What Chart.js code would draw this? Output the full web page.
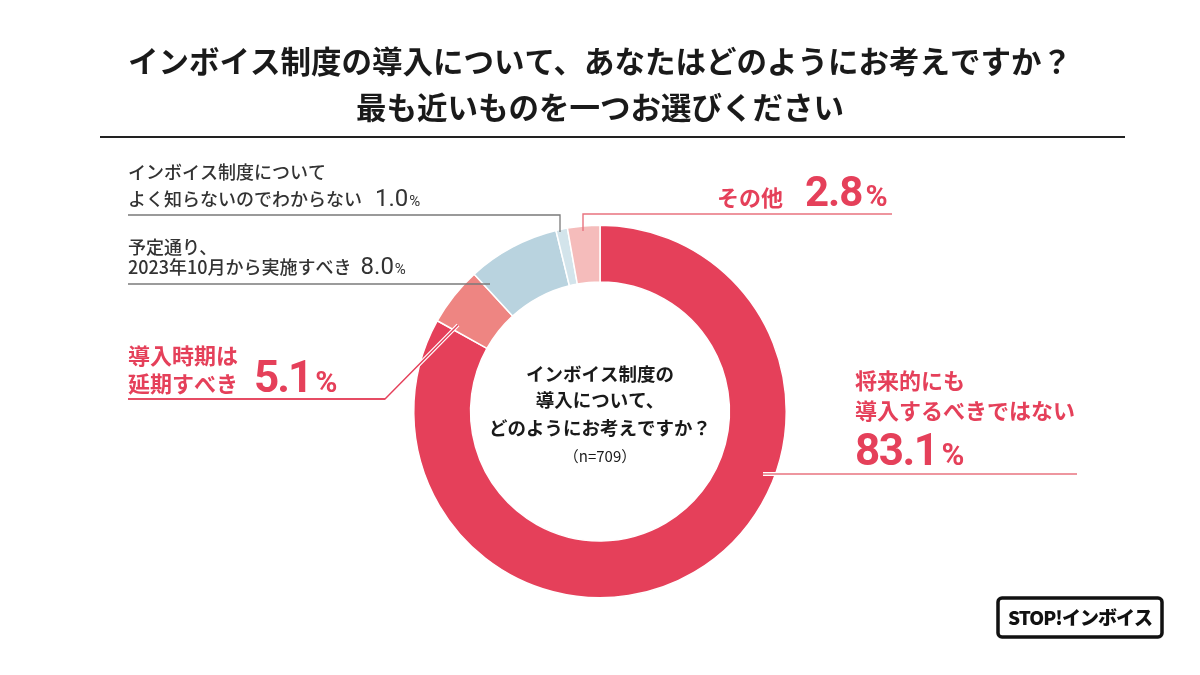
<!DOCTYPE html>
<html lang="ja">
<head>
<meta charset="utf-8">
<title>インボイス制度の導入について</title>
<script src="https://cdn.jsdelivr.net/npm/chart.js@4/dist/chart.umd.min.js"></script>
<style>
  html, body { margin: 0; padding: 0; background: #fff; }
  #wrap { width: 1200px; height: 675px; position: relative; }
</style>
</head>
<body>
<div id="wrap"><canvas id="chart1"></canvas></div>
<script>
// 回答データ（時計回り、12時の位置から）
const answerLabels = [
    '将来的にも導入するべきではない',
    '導入時期は延期すべき',
    '予定通り、2023年10月から実施すべき',
    'インボイス制度についてよく知らないのでわからない',
    'その他'
];
const answerValues = [83.1, 5.1, 8.0, 1.0, 2.8];
const answerColors = ['#e5405a', '#ee8582', '#b9d3df', '#d3e4eb', '#f5bcbb'];

const titleLines = ['インボイス制度の導入について、あなたはどのようにお考えですか？', '最も近いものを一つお選びください'];
const centerLines = ['インボイス制度の', '導入について、', 'どのようにお考えですか？'];
const sampleSize = 709;

const JP = '"Noto Sans CJK JP", "Noto Sans", sans-serif';
const NUM = 'Roboto, "Noto Sans", sans-serif';
const RED = '#e5405a';
const GRAY_TEXT = '#333333';

function pct(i) {
    return answerValues[i].toFixed(1);
}

// 複数フォントのテキストを横に並べて描く
function drawRuns(ctx, x, y, runs) {
    ctx.textAlign = 'left';
    ctx.textBaseline = 'alphabetic';
    runs.forEach(run => {
        ctx.font = run.font;
        ctx.fillStyle = run.color;
        ctx.letterSpacing = run.spacing || '0px';
        x += run.gap || 0;
        ctx.fillText(run.text, x, y);
        x += ctx.measureText(run.text).width;
    });
    ctx.letterSpacing = '0px';
}

function line(ctx, pts, color, width, outline) {
    ctx.save();
    ctx.lineJoin = 'miter';
    if (outline) {
        ctx.strokeStyle = '#ffffff';
        ctx.lineWidth = width + 2.5;
        ctx.beginPath();
        pts.forEach((p, i) => i ? ctx.lineTo(p[0], p[1]) : ctx.moveTo(p[0], p[1]));
        ctx.stroke();
    }
    ctx.strokeStyle = color;
    ctx.lineWidth = width;
    ctx.beginPath();
    pts.forEach((p, i) => i ? ctx.lineTo(p[0], p[1]) : ctx.moveTo(p[0], p[1]));
    ctx.stroke();
    ctx.restore();
}

const annotations = {
    id: 'annotations',
    afterDraw(chart) {
        const ctx = chart.ctx;
        ctx.save();

        // タイトル
        ctx.textAlign = 'center';
        ctx.textBaseline = 'alphabetic';
        ctx.fillStyle = '#1a1a1a';
        ctx.font = 'bold 30.5px ' + JP;
        ctx.fillText(titleLines[0], 600, 73);
        ctx.fillText(titleLines[1], 600, 119);
        line(ctx, [[100, 137], [1125, 137]], '#222222', 2);

        // 中央テキスト
        ctx.textAlign = 'center';
        ctx.fillStyle = '#1a1a1a';
        ctx.font = 'bold 18.5px ' + JP;
        ctx.fillText(centerLines[0], 600, 381);
        ctx.fillText(centerLines[1], 600, 407);
        ctx.fillText(centerLines[2], 600, 435);
        ctx.font = '15px ' + JP;
        ctx.fillText('（n=' + sampleSize + '）', 600, 462);

        // わからない 1.0%
        ctx.textAlign = 'left';
        ctx.font = '500 18px ' + JP;
        ctx.fillStyle = GRAY_TEXT;
        ctx.fillText('インボイス制度について', 128, 179);
        drawRuns(ctx, 128, 206, [
            { text: 'よく知らないのでわからない', font: '500 18px ' + JP, color: GRAY_TEXT },
            { text: pct(3), font: '400 24px ' + NUM, color: GRAY_TEXT, gap: 13 },
            { text: '%', font: '400 15px ' + NUM, color: GRAY_TEXT, gap: 1 }
        ]);
        line(ctx, [[128, 215], [560, 215], [560, 232]], '#7a7a7a', 1.3);

        // 予定通り 8.0%
        ctx.font = '500 18px ' + JP;
        ctx.fillStyle = GRAY_TEXT;
        ctx.fillText('予定通り、', 128, 254);
        drawRuns(ctx, 128, 274, [
            { text: '2023年10月から実施すべき', font: '500 18px ' + JP, color: GRAY_TEXT },
            { text: pct(2), font: '400 24px ' + NUM, color: GRAY_TEXT, gap: 9 },
            { text: '%', font: '400 15px ' + NUM, color: GRAY_TEXT, gap: 1 }
        ]);
        line(ctx, [[128, 284], [490, 284]], '#7a7a7a', 1.3);

        // 延期すべき 5.1%
        ctx.font = 'bold 22px ' + JP;
        ctx.fillStyle = RED;
        ctx.fillText('導入時期は', 128, 364);
        drawRuns(ctx, 128, 392, [
            { text: '延期すべき', font: 'bold 22px ' + JP, color: RED },
            { text: pct(1), font: 'bold 44px ' + NUM, color: RED, gap: 16, spacing: '-2px' },
            { text: '%', font: 'bold 30px ' + NUM, color: RED, gap: 4 }
        ]);
        line(ctx, [[128, 399], [385, 399], [458, 325]], RED, 1.4, true);
        line(ctx, [[128, 399], [385, 399]], RED, 1.4);

        // その他 2.8%
        drawRuns(ctx, 717, 206, [
            { text: 'その他', font: 'bold 22px ' + JP, color: RED },
            { text: pct(4), font: 'bold 42px ' + NUM, color: RED, gap: 22, spacing: '-1px' },
            { text: '%', font: 'bold 30px ' + NUM, color: RED, gap: 3 }
        ]);
        line(ctx, [[892, 214], [583, 214], [583, 231]], '#e9737f', 1.4);

        // 導入するべきではない 83.1%
        ctx.font = 'bold 22px ' + JP;
        ctx.fillStyle = RED;
        ctx.fillText('将来的にも', 855, 389);
        ctx.fillText('導入するべきではない', 855, 419);
        drawRuns(ctx, 855, 465, [
            { text: pct(0), font: 'bold 44px ' + NUM, color: RED, spacing: '-1.5px' },
            { text: '%', font: 'bold 31px ' + NUM, color: RED, gap: 4 }
        ]);
        line(ctx, [[763, 474], [1077, 474]], '#e9737f', 1.4, true);

        // ロゴ
        ctx.save();
        ctx.strokeStyle = '#111111';
        ctx.lineWidth = 3.5;
        ctx.beginPath();
        ctx.roundRect(998, 598, 164, 39, 4);
        ctx.stroke();
        ctx.fillStyle = '#111111';
        ctx.textAlign = 'center';
        ctx.textBaseline = 'middle';
        ctx.font = '900 19px ' + JP;
        ctx.letterSpacing = '-1px';
        ctx.fillText('STOP!インボイス', 1080, 618);
        ctx.restore();

        ctx.restore();
    }
};

const ctx = document.getElementById('chart1');
new Chart(ctx, {
    type: 'doughnut',
    data: {
        labels: answerLabels,
        datasets: [{
            data: answerValues,
            backgroundColor: answerColors,
            borderColor: '#ffffff',
            borderWidth: 1.5
        }]
    },
    options: {
        responsive: true,
        maintainAspectRatio: false,
        animation: false,
        cutout: '69.5%',
        layout: {
            padding: { top: 224, bottom: 76, left: 413, right: 413 }
        },
        plugins: {
            legend: { display: false },
            tooltip: { enabled: false }
        }
    },
    plugins: [annotations]
});
</script>
</body>
</html>
